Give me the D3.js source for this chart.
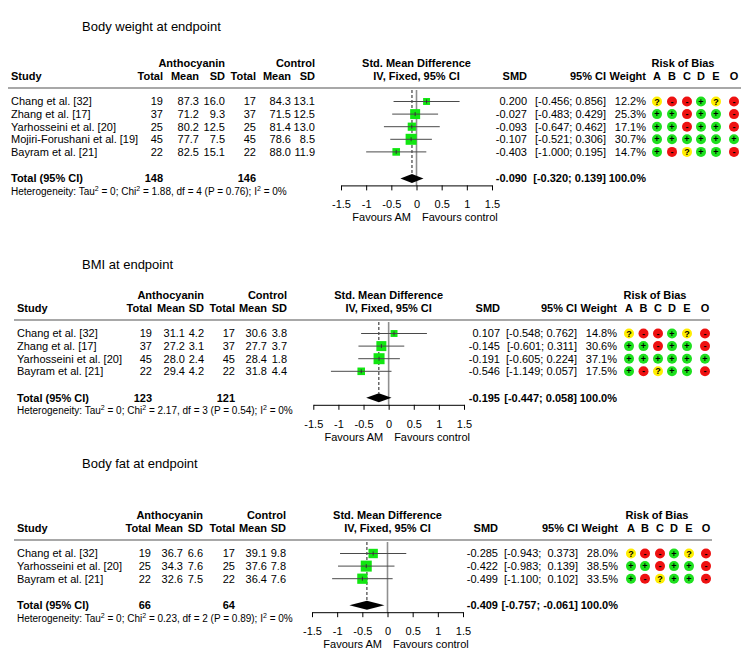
<!DOCTYPE html>
<html><head><meta charset="utf-8">
<script src="https://cdn.jsdelivr.net/npm/d3@7"></script>
<style>
body{margin:0;background:#fff}
svg text{font-family:"Liberation Sans",Arial,sans-serif;fill:#000}
</style></head><body>
<svg id="chart" width="750" height="671"></svg>
<script>
// ---------- shared labels ----------
const riskDomains = ["A", "B", "C", "D", "E", "O"];
const axisTicks = [-1.5, -1, -0.5, 0, 0.5, 1, 1.5];
const axisTickLabels = ["-1.5", "-1", "-0.5", "0", "0.5", "1", "1.5"];
const groupLabels = ["Anthocyanin", "Control"];
const favourLabels = ["Favours AM", "Favours control"];

// ---------- Body weight ----------
const bwTitle = "Body weight at endpoint";
const bwStudies = ["Chang et al. [32]", "Zhang et al. [17]", "Yarhosseini et al. [20]", "Mojiri-Forushani et al. [19]", "Bayram et al. [21]"];
const bwExpTotal = [19, 37, 25, 45, 22];
const bwExpMean = [87.3, 71.2, 80.2, 77.7, 82.5];
const bwExpSD = [16.0, 9.3, 12.5, 7.5, 15.1];
const bwCtlTotal = [17, 37, 25, 45, 22];
const bwCtlMean = [84.3, 71.5, 81.4, 78.6, 88.0];
const bwCtlSD = [13.1, 12.5, 13.0, 8.5, 11.9];
const bwSMD = [0.200, -0.027, -0.093, -0.107, -0.403];
const bwLower = [-0.456, -0.483, -0.647, -0.521, -1.000];
const bwUpper = [0.856, 0.429, 0.462, 0.306, 0.195];
const bwWeight = [12.2, 25.3, 17.1, 30.7, 14.7];
const bwRisk = [["?","-","-","+","?","-"], ["+","+","-","+","+","-"], ["+","+","-","+","+","-"], ["+","+","+","+","+","+"], ["+","-","?","+","+","-"]];
const bwPooled = [148, 146, -0.090, -0.320, 0.139, 100.0]; // expN, ctlN, smd, lower, upper, weight
const bwHet = ["0", "1.88", "4", "0.76", "0%"]; // tau2, chi2, df, P, I2

// ---------- BMI ----------
const bmiTitle = "BMI at endpoint";
const bmiStudies = ["Chang et al. [32]", "Zhang et al. [17]", "Yarhosseini et al. [20]", "Bayram et al. [21]"];
const bmiExpTotal = [19, 37, 45, 22];
const bmiExpMean = [31.1, 27.2, 28.0, 29.4];
const bmiExpSD = [4.2, 3.1, 2.4, 4.2];
const bmiCtlTotal = [17, 37, 45, 22];
const bmiCtlMean = [30.6, 27.7, 28.4, 31.8];
const bmiCtlSD = [3.8, 3.7, 1.8, 4.4];
const bmiSMD = [0.107, -0.145, -0.191, -0.546];
const bmiLower = [-0.548, -0.601, -0.605, -1.149];
const bmiUpper = [0.762, 0.311, 0.224, 0.057];
const bmiWeight = [14.8, 30.6, 37.1, 17.5];
const bmiRisk = [["?","-","-","+","?","-"], ["+","+","-","+","+","-"], ["+","+","+","+","+","+"], ["+","-","?","+","+","-"]];
const bmiPooled = [123, 121, -0.195, -0.447, 0.058, 100.0];
const bmiHet = ["0", "2.17", "3", "0.54", "0%"];

// ---------- Body fat ----------
const fatTitle = "Body fat at endpoint";
const fatStudies = ["Chang et al. [32]", "Yarhosseini et al. [20]", "Bayram et al. [21]"];
const fatExpTotal = [19, 25, 22];
const fatExpMean = [36.7, 34.3, 32.6];
const fatExpSD = [6.6, 7.6, 7.5];
const fatCtlTotal = [17, 25, 22];
const fatCtlMean = [39.1, 37.6, 36.4];
const fatCtlSD = [9.8, 7.8, 7.6];
const fatSMD = [-0.285, -0.422, -0.499];
const fatLower = [-0.943, -0.983, -1.100];
const fatUpper = [0.373, 0.139, 0.102];
const fatWeight = [28.0, 38.5, 33.5];
const fatRisk = [["?","-","-","+","?","-"], ["+","+","-","+","+","-"], ["+","-","?","+","+","-"]];
const fatPooled = [66, 64, -0.409, -0.757, -0.061, 100.0];
const fatHet = ["0", "0.23", "2", "0.89", "0%"];

// ---------- layout (positions only) ----------
const layouts = [
  {titleY: 26, sepY: 88, studyX: 11, cols: [163, 199, 225, 256, 291, 315], xRange: [341, 492], smdX: 527, ciX: 606, wX: 646, rob: [657, 672, 687, 701, 716, 734], lineX2: 741},
  {titleY: 264, sepY: 320, studyX: 17, cols: [152, 185, 204, 235, 267, 287], xRange: [313.3, 464], smdX: 500, ciX: 577, wX: 617, rob: [629, 643.5, 658, 672, 687, 705], lineX2: 710},
  {titleY: 463, sepY: 540, studyX: 17, cols: [151, 183, 203, 235, 267, 286], xRange: [312, 463], smdX: 498, ciX: 578, wX: 618, rob: [631, 645, 660, 674, 689, 706], lineX2: 712}
];

const panels = [
  {title: bwTitle, studies: bwStudies, cols: [bwExpTotal, bwExpMean, bwExpSD, bwCtlTotal, bwCtlMean, bwCtlSD], smd: bwSMD, lo: bwLower, hi: bwUpper, w: bwWeight, risk: bwRisk, pooled: bwPooled, het: bwHet},
  {title: bmiTitle, studies: bmiStudies, cols: [bmiExpTotal, bmiExpMean, bmiExpSD, bmiCtlTotal, bmiCtlMean, bmiCtlSD], smd: bmiSMD, lo: bmiLower, hi: bmiUpper, w: bmiWeight, risk: bmiRisk, pooled: bmiPooled, het: bmiHet},
  {title: fatTitle, studies: fatStudies, cols: [fatExpTotal, fatExpMean, fatExpSD, fatCtlTotal, fatCtlMean, fatCtlSD], smd: fatSMD, lo: fatLower, hi: fatUpper, w: fatWeight, risk: fatRisk, pooled: fatPooled, het: fatHet}
];

const svg = d3.select("#chart");
const FS = 11;
const rowH = 12.6;
const riskColor = {"+": "#1ee01e", "-": "#ee1111", "?": "#ffee00"};

function txt(g, x, y, s, opt = {}) {
  return g.append("text").attr("x", x).attr("y", y).attr("dy", "0.35em")
    .attr("font-size", opt.size || FS)
    .attr("font-weight", opt.bold ? "bold" : null)
    .attr("text-anchor", opt.anchor || "start")
    .style("white-space", "pre")
    .text(s);
}

panels.forEach((p, pi) => {
  const L = layouts[pi];
  const g = svg.append("g");
  const x = d3.scaleLinear().domain([axisTicks[0], axisTicks[axisTicks.length - 1]]).range(L.xRange);
  const n = p.studies.length;
  const rowY = i => L.sepY + 13.5 + i * rowH;
  const totY = rowY(n - 1) + 26.5;
  const axisY = totY + 7;
  const anyNegUpper = p.hi.some(v => v < 0) || p.pooled[4] < 0;
  const fmtCI = (a, b) => "[" + a.toFixed(3) + ";" + (anyNegUpper && b >= 0 ? "  " : " ") + b.toFixed(3) + "]";

  txt(g, 82, L.titleY, p.title, {size: 13});

  const h1 = L.sepY - 25, h2 = L.sepY - 12;
  txt(g, L.cols[2], h1, groupLabels[0], {bold: true, anchor: "end"});
  txt(g, L.cols[5], h1, groupLabels[1], {bold: true, anchor: "end"});
  const xc = (L.xRange[0] + L.xRange[1]) / 2;
  txt(g, xc, h1, "Std. Mean Difference", {bold: true, anchor: "middle"});
  txt(g, xc, h2, "IV, Fixed, 95% CI", {bold: true, anchor: "middle"});
  txt(g, L.rob[0] + 26, h1, "Risk of Bias", {bold: true, anchor: "middle"});
  txt(g, L.studyX, h2, "Study", {bold: true});
  ["Total", "Mean", "SD", "Total", "Mean", "SD"].forEach((h, j) => txt(g, L.cols[j], h2, h, {bold: true, anchor: "end"}));
  txt(g, L.smdX, h2, "SMD", {bold: true, anchor: "end"});
  txt(g, L.ciX, h2, "95% CI", {bold: true, anchor: "end"});
  txt(g, L.wX, h2, "Weight", {bold: true, anchor: "end"});
  riskDomains.forEach((d, j) => txt(g, L.rob[j], h2, d, {bold: true, anchor: "middle"}));

  g.append("line").attr("x1", L.studyX - 3).attr("x2", L.lineX2).attr("y1", L.sepY).attr("y2", L.sepY)
    .attr("stroke", "#a8a8a8").attr("stroke-width", 2);

  g.append("line").attr("x1", x(0)).attr("x2", x(0)).attr("y1", L.sepY + 2).attr("y2", axisY)
    .attr("stroke", "#8f8f8f").attr("stroke-width", 1.6);
  g.append("line").attr("x1", x(p.pooled[2])).attr("x2", x(p.pooled[2])).attr("y1", L.sepY + 2).attr("y2", totY - 4.5)
    .attr("stroke", "#000").attr("stroke-width", 0.9).attr("stroke-dasharray", "3,2");

  const maxW = d3.max(p.w);
  p.studies.forEach((s, i) => {
    const y = rowY(i);
    txt(g, L.studyX, y, s);
    p.cols.forEach((col, j) => {
      const v = col[i];
      txt(g, L.cols[j], y, (j === 0 || j === 3) ? String(v) : v.toFixed(1), {anchor: "end"});
    });
    txt(g, L.smdX, y, p.smd[i].toFixed(3), {anchor: "end"});
    txt(g, L.ciX, y, fmtCI(p.lo[i], p.hi[i]), {anchor: "end"});
    txt(g, L.wX, y, p.w[i].toFixed(1) + "%", {anchor: "end"});
    const side = 11 * Math.sqrt(p.w[i] / maxW);
    g.append("rect").attr("x", x(p.smd[i]) - side / 2).attr("y", y - side / 2)
      .attr("width", side).attr("height", side).attr("fill", "#11e611");
    g.append("line").attr("x1", x(p.lo[i])).attr("x2", x(p.hi[i])).attr("y1", y).attr("y2", y)
      .attr("stroke", "#4a4a4a").attr("stroke-width", 1);
    g.append("line").attr("x1", x(p.smd[i])).attr("x2", x(p.smd[i])).attr("y1", y - 2).attr("y2", y + 2)
      .attr("stroke", "#333").attr("stroke-width", 1);
    p.risk[i].forEach((r, j) => {
      g.append("circle").attr("cx", L.rob[j]).attr("cy", y).attr("r", 5).attr("fill", riskColor[r]);
      txt(g, L.rob[j], y, r, {bold: true, anchor: "middle", size: 9});
    });
  });

  txt(g, L.studyX, totY, "Total (95% CI)", {bold: true});
  txt(g, L.cols[0], totY, String(p.pooled[0]), {bold: true, anchor: "end"});
  txt(g, L.cols[3], totY, String(p.pooled[1]), {bold: true, anchor: "end"});
  txt(g, L.smdX, totY, p.pooled[2].toFixed(3), {bold: true, anchor: "end"});
  txt(g, L.ciX, totY, fmtCI(p.pooled[3], p.pooled[4]), {bold: true, anchor: "end"});
  txt(g, L.wX, totY, p.pooled[5].toFixed(1) + "%", {bold: true, anchor: "end"});
  const dh = 4.5;
  g.append("path")
    .attr("d", `M${x(p.pooled[3])},${totY}L${x(p.pooled[2])},${totY - dh}L${x(p.pooled[4])},${totY}L${x(p.pooled[2])},${totY + dh}Z`)
    .attr("fill", "#000");

  const ht = g.append("text").attr("x", L.studyX).attr("y", totY + 13).attr("dy", "0.35em").attr("font-size", 10);
  const sup = (t) => { ht.append("tspan").attr("dy", -4).attr("font-size", 7).text("2"); ht.append("tspan").attr("dy", 4).text(t); };
  ht.append("tspan").text("Heterogeneity: Tau");
  sup(" = " + p.het[0] + "; Chi");
  sup(" = " + p.het[1] + ", df = " + p.het[2] + " (P = " + p.het[3] + "); I");
  sup(" = " + p.het[4]);

  const ax = g.append("g").attr("transform", `translate(0,${axisY})`)
    .call(d3.axisBottom(x).tickValues(axisTicks).tickFormat((d, i) => axisTickLabels[i]).tickSize(5).tickSizeOuter(0).tickPadding(10));
  ax.attr("font-family", null).attr("font-size", FS);
  ax.selectAll("text").attr("font-size", FS);
  ax.select(".domain").attr("stroke", "#000");
  txt(g, x(0) - 5.5, axisY + 32, favourLabels[0], {anchor: "end"});
  txt(g, x(0) + 5.5, axisY + 32, favourLabels[1], {anchor: "start"});
});
</script>
</body></html>
